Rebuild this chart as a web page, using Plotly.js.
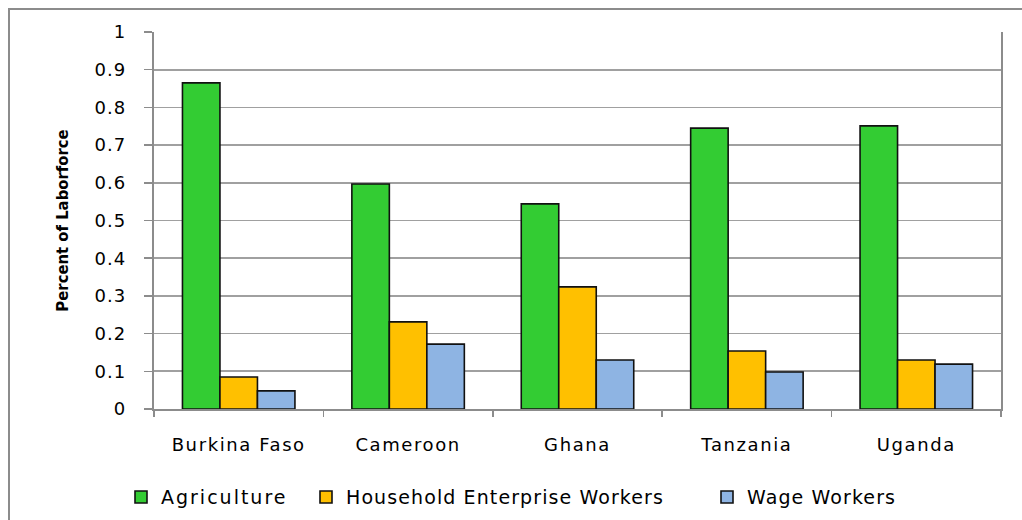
<!DOCTYPE html>
<html>
<head>
<meta charset="utf-8">
<script src="https://cdn.plot.ly/plotly-3.0.1.min.js"></script>
<style>
  html, body { margin: 0; padding: 0; background: #ffffff; }
  #wrap { position: relative; width: 1022px; height: 520px; overflow: hidden; }
  #chart { width: 1022px; height: 520px; }
  #frame { position: absolute; left: 8px; top: 8px; width: 1100px; height: 600px;
           border: 2px solid #8c8c8c; pointer-events: none; box-sizing: border-box; }
  svg text { letter-spacing: 1.1px; }
  svg .xtick text { letter-spacing: 1.6px; }
  svg text.legendtext { letter-spacing: 2px; }
  svg .g-ytitle text, svg text.ytitle { letter-spacing: 0px; }
</style>
</head>
<body>
<div id="wrap">
  <div id="chart"></div>
  <div id="frame"></div>
</div>
<script>
const countries = ["Burkina Faso", "Cameroon", "Ghana", "Tanzania", "Uganda"];
const agriculture = [0.865, 0.597, 0.544, 0.745, 0.751];
const householdEnterprise = [0.085, 0.231, 0.324, 0.154, 0.130];
const wageWorkers = [0.048, 0.172, 0.130, 0.098, 0.119];
const yTickValues = [0, 0.1, 0.2, 0.3, 0.4, 0.5, 0.6, 0.7, 0.8, 0.9, 1];
const yTickLabels = ["0", "0.1", "0.2", "0.3", "0.4", "0.5", "0.6", "0.7", "0.8", "0.9", "1"];

const barLine = { color: "#111111", width: 1.6 };
const traces = [
  { type: "bar", name: "Agriculture", x: countries, y: agriculture, legend: "legend",
    marker: { color: "#33CC33", line: barLine } },
  { type: "bar", name: "Household Enterprise Workers", x: countries, y: householdEnterprise, legend: "legend2",
    marker: { color: "#FFC000", line: barLine } },
  { type: "bar", name: "Wage Workers", x: countries, y: wageWorkers, legend: "legend3",
    marker: { color: "#8EB4E3", line: barLine } }
];

const tickFont = { family: "DejaVu Sans, sans-serif", size: 18, color: "#000000" };
const legendFont = { family: "DejaVu Sans, sans-serif", size: 19, color: "#000000" };

function legendAt(px) {
  return { orientation: "h", xref: "container", yref: "container",
           x: px / 1022, xanchor: "left", y: 0.044, yanchor: "middle",
           font: legendFont, bgcolor: "rgba(0,0,0,0)", borderwidth: 0 };
}

const layout = {
  width: 1022, height: 520,
  margin: { l: 154, r: 21, t: 32, b: 111, autoexpand: false },
  paper_bgcolor: "#ffffff", plot_bgcolor: "#ffffff",
  barmode: "group", bargap: 0.336, bargroupgap: 0,
  showlegend: true,
  legend: legendAt(121),
  legend2: legendAt(306),
  legend3: legendAt(707),
  xaxis: {
    type: "category", tickson: "boundaries", ticks: "outside", ticklen: 6,
    tickcolor: "#8c8c8c", tickwidth: 1.5,
    showline: true, linecolor: "#8c8c8c", linewidth: 2,
    showgrid: false, tickfont: tickFont, ticklabelstandoff: 18
  },
  yaxis: {
    range: [0, 1], tickvals: yTickValues, ticktext: yTickLabels,
    ticks: "outside", ticklen: 8, tickcolor: "#8c8c8c", tickwidth: 1.5,
    showline: true, mirror: true, linecolor: "#8c8c8c", linewidth: 2,
    showgrid: true, gridcolor: "#a0a0a0", gridwidth: 1.6,
    zeroline: false, tickfont: tickFont, ticklabelstandoff: 14,
    title: { text: "Percent of Laborforce", standoff: 22,
             font: { family: "DejaVu Sans Condensed, DejaVu Sans, sans-serif", size: 16.5, color: "#000000", weight: "bold" } }
  }
};

Plotly.newPlot("chart", traces, layout, { displayModeBar: false, staticPlot: true });
</script>
</body>
</html>
